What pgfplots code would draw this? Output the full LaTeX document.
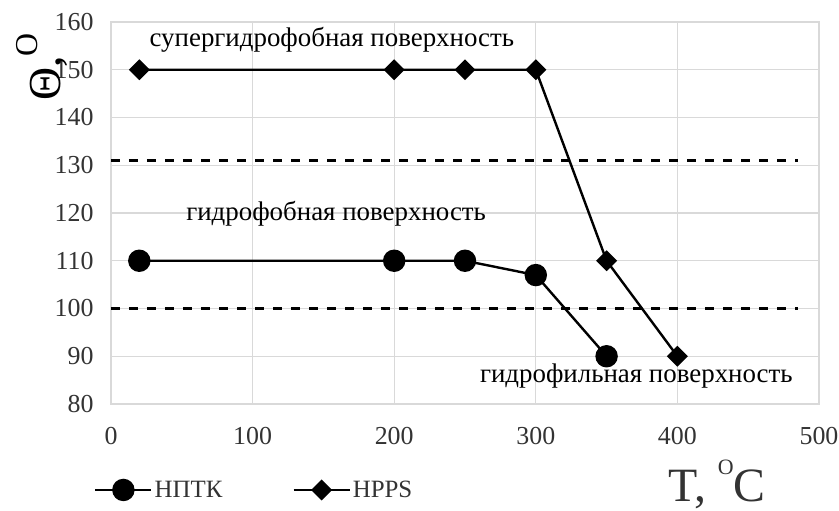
\documentclass[border=0pt]{standalone}
\usepackage{pgfplots}
\pgfplotsset{compat=1.18}
\usepackage{fontspec}
\setmainfont{Liberation Serif}

\definecolor{gridgray}{HTML}{D9D9D9}

\newcommand{\fs}[1]{\fontsize{#1}{#1}\selectfont}

\begin{document}
\begin{tikzpicture}
\begin{axis}[
  at={(0,0)}, anchor=south west,
  scale only axis,
  width=708bp, height=382bp,
  xmin=0, xmax=500, ymin=80, ymax=160,
  xtick={0,100,...,500},
  ytick={80,90,...,160},
  grid=major,
  major grid style={draw=gridgray, line width=1.2bp},
  axis line style={draw=gridgray, line width=1.2bp},
  major tick length=0pt,
  /pgf/number format/assume math mode=true,
  tick label style={font=\fs{26}, text=black!80},
  xticklabel style={yshift=-20bp},
  yticklabel style={xshift=-14bp},
  xlabel={T, \raisebox{27bp}{\fs{22}O}C},
  xlabel style={font=\fs{48}, text=black!80, at={(axis description cs:0.856,-0.256)}, anchor=base},
  ylabel={Θ,\raisebox{23bp}{\fs{32}O}},
  ylabel style={font=\fs{46}, at={(axis description cs:-0.072,0.882)}, anchor=base},
  legend columns=2,
  legend style={at={(axis description cs:-0.024,-0.225)}, anchor=west,
    draw=none, fill=none, inner sep=0pt, font=\fs{25}, text=black!80,
    /tikz/every even column/.append style={column sep=68bp}},
  legend image code/.code={%
    \draw[mark repeat=2, mark phase=2, #1]
      plot coordinates {(0bp,0bp) (28bp,0bp) (56bp,0bp)};},
]
% boundary between surface types
\addplot[black, line width=3bp, dash pattern=on 9bp off 9bp, forget plot]
  coordinates {(0,131) (485,131)};
\addplot[black, line width=3bp, dash pattern=on 9bp off 9bp, forget plot]
  coordinates {(0,100) (485,100)};

% НПТК
\addplot[black, line width=2.4bp, mark=*, mark size=10bp,
  mark options={solid, fill=black}]
  coordinates {(20,110) (200,110) (250,110) (300,107) (350,90)};
\addlegendentry{НПТК}

% HPPS
\addplot[black, line width=2.4bp, mark=square*, mark size=6.2bp,
  mark options={solid, fill=black, rotate=45}]
  coordinates {(20,150) (200,150) (250,150) (300,150) (350,110) (400,90)};
\addlegendentry{HPPS}

\node[font=\fs{27}, anchor=base] at (axis cs:156,154.8) {супергидрофобная поверхность};
\node[font=\fs{27}, anchor=base] at (axis cs:159,118.5) {гидрофобная поверхность};
\node[font=\fs{27}, anchor=base] at (axis cs:371,84.4) {гидрофильная поверхность};
\end{axis}
\pgfresetboundingbox
\path (-111bp,-107bp) rectangle (728bp,404bp);
\end{tikzpicture}
\end{document}
